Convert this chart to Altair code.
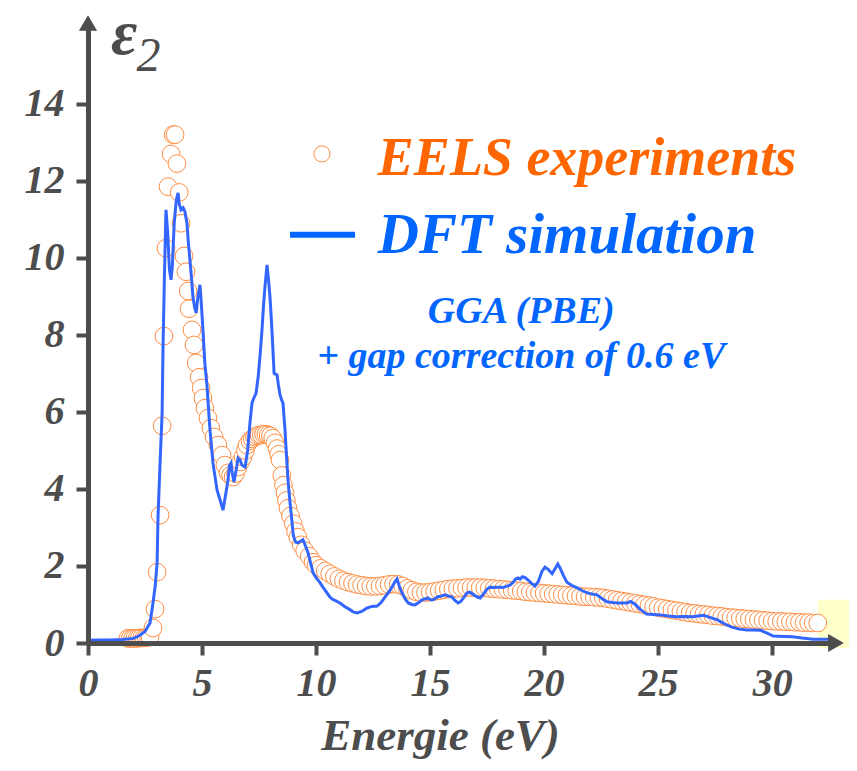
import altair as alt
import pandas as pd

# ---------------- data ----------------
eels_E = [1.75, 1.85, 1.95, 2.05, 2.15, 2.25, 2.35, 2.45, 2.55, 2.65, 2.72, 2.85, 2.94,
          3.03, 3.16, 3.25, 3.33, 3.42, 3.51, 3.64, 3.73, 3.82, 3.90, 4.00, 4.08, 4.21,
          4.30, 4.39, 4.43, 4.56, 4.65, 4.74, 4.87, 4.96, 5.04, 5.13, 5.26, 5.39, 5.53,
          5.70, 5.88, 6.00, 6.14, 6.25, 6.36, 6.47, 6.58, 6.69, 6.80, 6.90, 6.97, 7.10,
          7.20, 7.30, 7.40, 7.50, 7.60, 7.70, 7.80, 7.90, 8.00, 8.10, 8.20, 8.29, 8.36,
          8.42, 8.50, 8.57, 8.64, 8.70, 8.77, 8.88, 9.00, 9.10, 9.20, 9.35, 9.50, 9.70,
          9.87, 10.0, 10.2, 10.4, 10.6, 10.8, 11.0, 11.2, 11.4, 11.6, 11.8, 12.0, 12.2,
          12.4, 12.6, 12.8, 13.0, 13.2, 13.4, 13.6, 13.8, 14.0, 14.2, 14.4, 14.6, 14.8,
          15.0, 15.2, 15.4, 15.6, 15.8, 16.0, 16.2, 16.4, 16.6, 16.8, 17.0, 17.2, 17.4,
          17.6, 17.8, 18.0, 18.2, 18.4, 18.6, 18.8, 19.0, 19.2, 19.4, 19.6, 19.8, 20.0,
          20.2, 20.4, 20.6, 20.8, 21.0, 21.2, 21.4, 21.6, 21.8, 22.0, 22.2, 22.4, 22.6,
          22.8, 23.0, 23.2, 23.4, 23.6, 23.8, 24.0, 24.2, 24.4, 24.6, 24.8, 25.0, 25.2,
          25.4, 25.6, 25.8, 26.0, 26.2, 26.4, 26.6, 26.8, 27.0, 27.2, 27.4, 27.6, 27.8,
          28.0, 28.2, 28.4, 28.6, 28.8, 29.0, 29.2, 29.4, 29.6, 29.8, 30.0, 30.2, 30.4,
          30.6, 30.8, 31.0, 31.2, 31.4, 31.6, 31.8, 32.0]
eels_v = [0.12, 0.12, 0.12, 0.12, 0.12, 0.13, 0.13, 0.13, 0.14, 0.15, 0.16, 0.39, 0.88,
          1.84, 3.32, 5.64, 7.97, 10.25, 11.85, 12.70, 13.20, 13.20, 12.45, 11.70, 10.90, 10.05,
          9.64, 9.14, 8.68, 8.13, 7.74, 7.27, 6.90, 6.62, 6.36, 6.10, 5.84, 5.58, 5.35,
          5.14, 4.88, 4.62, 4.42, 4.35, 4.31, 4.40, 4.57, 4.70, 4.83, 5.00, 5.14, 5.25,
          5.30, 5.35, 5.38, 5.40, 5.40, 5.42, 5.42, 5.40, 5.38, 5.32, 5.20, 5.05, 4.90,
          4.75, 4.35, 4.10, 3.90, 3.70, 3.50, 3.30, 3.10, 2.90, 2.75, 2.55, 2.40, 2.25,
          2.10, 2.02, 1.94, 1.87, 1.80, 1.73, 1.67, 1.62, 1.58, 1.55, 1.52, 1.50, 1.48,
          1.47, 1.47, 1.48, 1.50, 1.52, 1.53, 1.52, 1.48, 1.42, 1.37, 1.33, 1.31, 1.31,
          1.32, 1.34, 1.36, 1.38, 1.40, 1.41, 1.42, 1.43, 1.44, 1.44, 1.44, 1.44, 1.43,
          1.42, 1.41, 1.40, 1.39, 1.38, 1.37, 1.36, 1.35, 1.33, 1.32, 1.31, 1.30, 1.29,
          1.28, 1.27, 1.26, 1.25, 1.24, 1.23, 1.22, 1.21, 1.20, 1.20, 1.19, 1.18, 1.17,
          1.15, 1.13, 1.11, 1.09, 1.07, 1.05, 1.03, 1.01, 0.99, 0.97, 0.95, 0.92, 0.90,
          0.88, 0.86, 0.84, 0.82, 0.80, 0.78, 0.77, 0.75, 0.74, 0.73, 0.71, 0.70, 0.69,
          0.67, 0.66, 0.65, 0.64, 0.63, 0.62, 0.61, 0.60, 0.59, 0.58, 0.57, 0.56, 0.56,
          0.55, 0.55, 0.54, 0.54, 0.53, 0.53, 0.52, 0.52]

dft_E = [0.0, 0.5, 1.0, 1.5, 2.0, 2.28, 2.5, 2.72, 2.85, 2.95, 3.03, 3.07, 3.16, 3.25,
         3.29, 3.35, 3.42, 3.50, 3.57, 3.64, 3.70, 3.78, 3.87, 3.95, 4.00, 4.08, 4.17,
         4.25, 4.34, 4.40, 4.47, 4.55, 4.60, 4.68, 4.74, 4.82, 4.91, 4.96, 5.04, 5.12,
         5.22, 5.35, 5.48, 5.66, 5.80, 5.92, 6.02, 6.14, 6.20, 6.27, 6.33, 6.40, 6.50,
         6.58, 6.67, 6.75, 6.89, 7.00, 7.10, 7.19, 7.30, 7.37, 7.46, 7.55, 7.63, 7.70,
         7.76, 7.85, 7.92, 7.98, 8.05, 8.11, 8.16, 8.22, 8.29, 8.35, 8.42, 8.50, 8.55,
         8.64, 8.70, 8.77, 8.85, 8.95, 9.00, 9.10, 9.21, 9.32, 9.43, 9.55, 9.65, 9.75,
         9.87, 10.0, 10.18, 10.3, 10.48, 10.6, 10.7, 10.85, 11.05, 11.25, 11.5, 11.65,
         11.8, 12.0, 12.24, 12.45, 12.68, 12.85, 13.03, 13.2, 13.33, 13.45, 13.55, 13.65,
         13.77, 13.9, 14.04, 14.2, 14.34, 14.5, 14.65, 14.8, 14.91, 15.02, 15.13, 15.25,
         15.35, 15.5, 15.66, 15.8, 15.95, 16.1, 16.23, 16.35, 16.5, 16.62, 16.75, 16.9,
         17.05, 17.2, 17.35, 17.5, 17.63, 17.8, 17.95, 18.07, 18.2, 18.35, 18.5, 18.65,
         18.75, 18.86, 18.95, 19.05, 19.17, 19.3, 19.45, 19.6, 19.75, 19.9, 20.04, 20.2,
         20.35, 20.5, 20.6, 20.7, 20.85, 21.0, 21.2, 21.45, 21.7, 21.9, 22.1, 22.32,
         22.55, 22.76, 23.0, 23.2, 23.45, 23.64, 23.8, 24.0, 24.2, 24.5, 24.8, 25.1,
         25.45, 25.8, 26.15, 26.5, 26.75, 27.0, 27.3, 27.6, 27.9, 28.2, 28.55, 28.9,
         29.2, 29.5, 29.8, 30.05, 30.5, 30.9, 31.3, 31.8, 32.1, 32.4, 32.6, 32.8]
dft_v = [0.07, 0.08, 0.08, 0.09, 0.12, 0.20, 0.30, 0.52, 1.04, 1.50, 2.08, 3.27, 4.67, 5.97,
         7.69, 9.50, 11.25, 10.60, 9.70, 9.43, 9.80, 10.90, 11.50, 11.69, 11.40, 11.25, 11.30,
         11.20, 10.90, 10.40, 9.95, 9.40, 8.99, 8.70, 8.57, 8.99, 9.30, 8.90, 8.13, 7.30,
         6.65, 5.53, 4.67, 3.97, 3.70, 3.45, 3.80, 4.23, 4.60, 4.67, 4.40, 4.18, 4.50,
         4.80, 4.75, 4.62, 4.57, 5.00, 5.70, 6.23, 6.40, 6.49, 6.90, 7.50, 8.13, 8.80,
         9.25, 9.82, 9.40, 8.99, 8.30, 7.61, 7.00, 6.98, 6.96, 6.70, 6.44, 6.30, 6.23,
         5.53, 4.90, 4.23, 3.70, 3.12, 2.80, 2.62, 2.60, 2.64, 2.68, 2.50, 2.34, 2.10,
         1.82, 1.70, 1.56, 1.45, 1.30, 1.20, 1.14, 1.10, 1.04, 0.95, 0.86, 0.80,
         0.78, 0.82, 0.91, 0.95, 0.96, 1.05, 1.20, 1.33, 1.45, 1.58, 1.66, 1.48,
         1.30, 1.15, 1.04, 1.00, 0.99, 1.05, 1.12, 1.15, 1.17, 1.12, 1.12, 1.17,
         1.20, 1.22, 1.25, 1.22, 1.20, 1.10, 1.04, 1.08, 1.20, 1.30, 1.32, 1.26,
         1.20, 1.17, 1.28, 1.40, 1.45, 1.44, 1.45, 1.45, 1.44, 1.47, 1.50, 1.58,
         1.66, 1.69, 1.66, 1.72, 1.70, 1.63, 1.55, 1.48, 1.60, 1.85, 1.97, 1.90,
         1.80, 1.95, 2.05, 1.95, 1.75, 1.58, 1.50, 1.43, 1.35, 1.30, 1.27, 1.25,
         1.15, 1.07, 1.05, 1.04, 1.04, 1.04, 1.08, 1.00, 0.88, 0.75, 0.74, 0.73,
         0.70, 0.68, 0.69, 0.68, 0.70, 0.72, 0.66, 0.60, 0.50, 0.42, 0.36, 0.34,
         0.34, 0.33, 0.25, 0.18, 0.17, 0.16, 0.13, 0.10, 0.10, 0.10, 0.07, 0.03]

x_ticks = [0, 5, 10, 15, 20, 25, 30]
y_ticks = [0, 2, 4, 6, 8, 10, 12, 14]

legend_labels = ["EELS experiments", "DFT simulation"]
note_labels = ["GGA (PBE)", "+ gap correction of 0.6 eV"]

# ---------------- styling ----------------
GREY = "#4d4d4d"
FONT = "Liberation Serif"
ORANGE_TXT = "#ff6600"
ORANGE_PT = "#ff8c40"
BLUE_TXT = "#0066ff"
BLUE_LINE = "#3366ff"

x_scale = alt.Scale(domain=[0, 32.8], nice=False, zero=False)
y_scale = alt.Scale(domain=[0, 16.1], nice=False, zero=False)

x_axis = alt.Axis(values=x_ticks, title="Energie (eV)", grid=False,
                  domainColor=GREY, domainWidth=5, tickColor=GREY, tickWidth=4,
                  tickSize=12, labelFont=FONT, labelFontSize=40, labelFontStyle="italic",
                  labelFontWeight="bold", labelColor=GREY, labelPadding=8,
                  labelFlush=False, titleFont=FONT, titleFontSize=45,
                  titleFontStyle="italic", titleFontWeight="bold", titleColor=GREY,
                  titleX=352, titleY=106, titleAlign="center", titleBaseline="alphabetic",
                  zindex=1)
y_axis = alt.Axis(values=y_ticks, title=None, grid=False,
                  domainColor=GREY, domainWidth=5, tickColor=GREY, tickWidth=4,
                  tickSize=12, labelFont=FONT, labelFontSize=40, labelFontStyle="italic",
                  labelFontWeight="bold", labelColor=GREY, labelPadding=12,
                  labelFlush=False, zindex=1)


def X(field="E"):
    return alt.X(f"{field}:Q", scale=x_scale, axis=x_axis)


def Y(field="v"):
    return alt.Y(f"{field}:Q", scale=y_scale, axis=y_axis)


eels = pd.DataFrame({"E": eels_E, "v": eels_v})
dft = pd.DataFrame({"E": dft_E, "v": dft_v})

# pale yellow patch at the bottom right
patch = pd.DataFrame({"E": [32.0], "E2": [33.4], "v": [-0.13], "v2": [1.12]})
patch_layer = alt.Chart(patch).mark_rect(color="#ffffcc").encode(
    x=X(), x2="E2:Q", y=Y(), y2="v2:Q")

eels_layer = alt.Chart(eels).mark_point(
    shape="circle", filled=True, fill="white", stroke=ORANGE_PT, strokeWidth=1,
    size=314, opacity=1, fillOpacity=1, strokeOpacity=1).encode(x=X(), y=Y())

dft_layer = alt.Chart(dft).mark_line(color=BLUE_LINE, strokeWidth=3).encode(
    x=X(), y=Y(), order="E:Q")

# legend
leg_pt = pd.DataFrame({"E": [10.26], "v": [12.7]})
leg_pt_layer = alt.Chart(leg_pt).mark_point(
    shape="circle", filled=True, fill="white", stroke=ORANGE_PT, strokeWidth=1,
    size=260, opacity=1).encode(x=X(), y=Y())

leg_line = pd.DataFrame({"E": [8.86], "E2": [11.71], "v": [10.6]})
leg_line_layer = alt.Chart(leg_line).mark_rule(color=BLUE_TXT, strokeWidth=6).encode(
    x=X(), x2="E2:Q", y=Y())

leg_txt1 = pd.DataFrame({"E": [12.71], "v": [12.16], "t": [legend_labels[0]]})
leg_txt1_layer = alt.Chart(leg_txt1).mark_text(
    font=FONT, fontSize=54, fontStyle="italic", fontWeight="bold", color=ORANGE_TXT,
    align="left", baseline="alphabetic").encode(x=X(), y=Y(), text="t:N")

leg_txt2 = pd.DataFrame({"E": [12.71], "v": [10.13], "t": [legend_labels[1]]})
leg_txt2_layer = alt.Chart(leg_txt2).mark_text(
    font=FONT, fontSize=57, fontStyle="italic", fontWeight="bold", color=BLUE_TXT,
    align="left", baseline="alphabetic").encode(x=X(), y=Y(), text="t:N")

notes = pd.DataFrame({"E": [19.0, 19.0], "v": [8.31, 7.14], "t": note_labels})
notes_layer = alt.Chart(notes).mark_text(
    font=FONT, fontSize=38, fontStyle="italic", fontWeight="bold", color=BLUE_TXT,
    align="center", baseline="alphabetic").encode(x=X(), y=Y(), text="t:N")

# y axis symbol epsilon_2
eps = pd.DataFrame({"E": [1.58], "v": [15.3], "t": ["ε"]})
eps_layer = alt.Chart(eps).mark_text(
    font=FONT, fontSize=64, fontStyle="italic", fontWeight="bold", color=GREY,
    align="center", baseline="alphabetic").encode(x=X(), y=Y(), text="t:N")
sub = pd.DataFrame({"E": [2.65], "v": [14.86], "t": ["2"]})
sub_layer = alt.Chart(sub).mark_text(
    font=FONT, fontSize=48, fontStyle="italic", color=GREY,
    align="center", baseline="alphabetic").encode(x=X(), y=Y(), text="t:N")

# axis arrow heads
arr_up = pd.DataFrame({"E": [0.0], "v": [16.1]})
arr_up_layer = alt.Chart(arr_up).mark_point(
    shape="triangle-up", filled=True, color=GREY, size=330, opacity=1).encode(x=X(), y=Y())
arr_rt = pd.DataFrame({"E": [32.8], "v": [0.0]})
arr_rt_layer = alt.Chart(arr_rt).mark_point(
    shape="triangle-right", filled=True, color=GREY, size=330, opacity=1).encode(x=X(), y=Y())

chart = alt.layer(
    patch_layer, eels_layer, dft_layer, leg_pt_layer, leg_line_layer,
    leg_txt1_layer, leg_txt2_layer, notes_layer, eps_layer, sub_layer,
    arr_up_layer, arr_rt_layer
).properties(
    width=748, height=620,
    padding={"left": 80, "top": 15, "right": 13, "bottom": 118},
    autosize=alt.AutoSizeParams(type="none"),
    background="white",
).configure_view(stroke=None)

chart.save("out.html", embed_options={"renderer": "svg", "actions": False})
